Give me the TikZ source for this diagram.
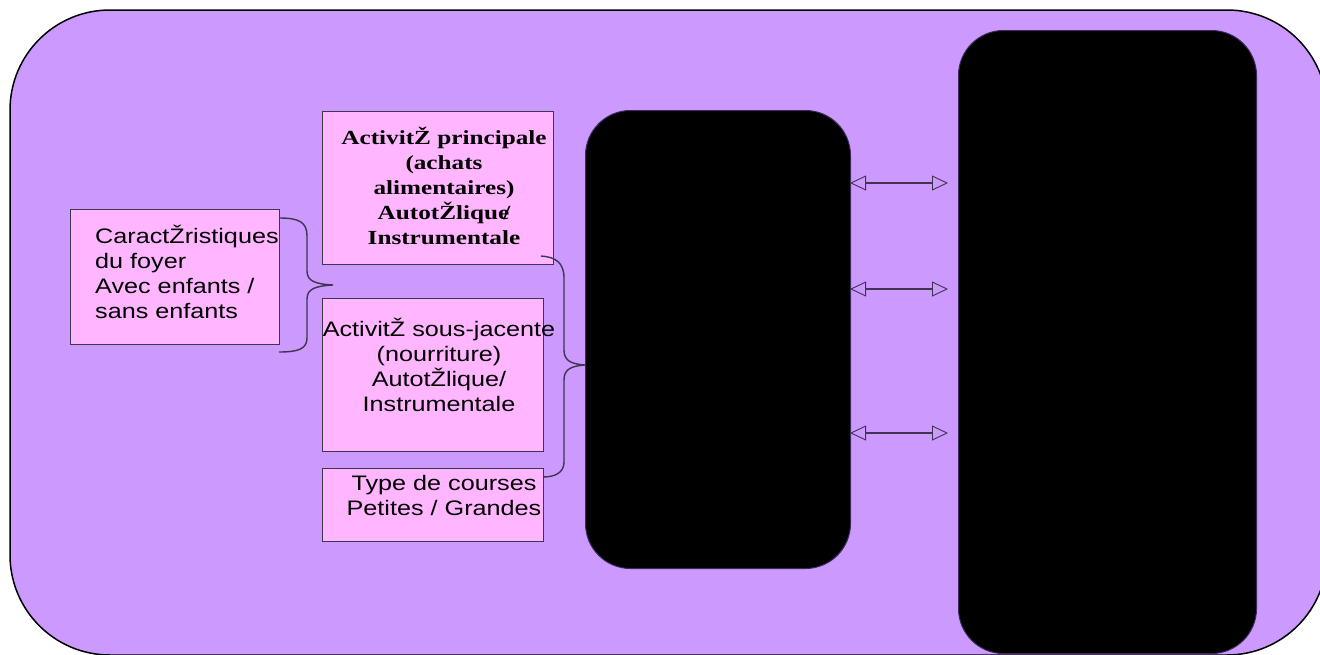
\documentclass[tikz,border=0pt]{standalone}
\usepackage{fontspec}
\usetikzlibrary{arrows.meta}
\newfontfamily\lsans[FakeStretch=1.2]{Liberation Sans}
\newfontfamily\lserif[FakeStretch=1.26]{Liberation Serif}
\definecolor{bgpurple}{HTML}{CC99FF}
\definecolor{boxpink}{HTML}{FFB6FF}
\definecolor{edgegray}{HTML}{3E3550}
\definecolor{darkedge}{HTML}{3A2A5A}
\tikzset{
  pinkbox/.style={draw=edgegray, fill=boxpink, line width=1pt, inner sep=0pt, anchor=north west},
  blackbox/.style={draw=darkedge, fill=black, line width=1pt, rounded corners=45pt, inner sep=0pt, anchor=north west},
  sanstext/.style={font=\lsans\fontsize{21}{25}\selectfont, inner sep=0pt},
  seriftext/.style={font=\lserif\bfseries\fontsize{20}{25}\selectfont, inner sep=0pt},
  bracepath/.style={draw=edgegray, line width=1.4pt},
  linkarrow/.style={draw=edgegray, line width=1.8pt, {Triangle[open, length=16pt, width=15pt, line width=0.9pt]}-{Triangle[open, length=16pt, width=15pt, line width=0.9pt]}}
}
\begin{document}
\begin{tikzpicture}[x=1pt,y=-1pt]
\useasboundingbox (0,0) rectangle (1320,654);
\clip (0,0) rectangle (1320,654);
% outer panel
\draw[fill=bgpurple, line width=1.5pt, rounded corners=100pt] (10,10) rectangle (1327,655);
% black panels
\node[blackbox, minimum width=265pt, minimum height=458pt] (mid) at (585,110) {};
\node[blackbox, minimum width=298pt, minimum height=623pt] (right) at (958,30) {};
% pink boxes
\node[pinkbox, minimum width=209pt, minimum height=135pt] (foyer) at (70,209) {};
\node[pinkbox, minimum width=231pt, minimum height=153pt] (princ) at (322,111) {};
\node[pinkbox, minimum width=221pt, minimum height=153pt] (sous) at (322,298) {};
\node[pinkbox, minimum width=221pt, minimum height=73pt] (type) at (322,468) {};
% texts
\node[sanstext, anchor=base west] (tfoyer) at (95,243)
  {\begin{tabular}[t]{@{}l@{}}CaractŽristiques\\du foyer\\Avec enfants /\\sans enfants\end{tabular}};
\node[seriftext, anchor=base] (tprinc) at (444,144)
  {\begin{tabular}[t]{@{}c@{}}ActivitŽ principale\\(achats\\alimentaires)\\AutotŽlique\kern-0.3em/\\Instrumentale\end{tabular}};
\node[sanstext, anchor=base] (tsous) at (439,336)
  {\begin{tabular}[t]{@{}c@{}}ActivitŽ sous-jacente\\(nourriture)\\AutotŽlique/\\Instrumentale\end{tabular}};
\node[sanstext, anchor=base] (ttype) at (444,490)
  {\begin{tabular}[t]{@{}c@{}}Type de courses\\Petites / Grandes\end{tabular}};
% brace 1
\coordinate (b1s) at (279,218);
\coordinate (b1t) at (333,285);
\coordinate (b1e) at (279,352);
\draw[bracepath] (b1s) .. controls (299,218) and (307,222) .. (307,236) -- (307,271)
  .. controls (307,281) and (315,284) .. (b1t)
  .. controls (315,286) and (307,289) .. (307,299) -- (307,338)
  .. controls (307,349) and (298,352) .. (b1e);
% brace 2
\coordinate (b2s) at (541,256);
\coordinate (b2t) at (585,365);
\coordinate (b2e) at (543,477);
\draw[bracepath] (b2s) .. controls (556,257) and (564,263) .. (564,278) -- (564,350)
  .. controls (564,360) and (570,364) .. (b2t)
  .. controls (570,366) and (564,370) .. (564,380) -- (564,462)
  .. controls (564,472) and (556,477) .. (b2e);
% arrows
\coordinate (a1l) at (850,183); \coordinate (a1r) at (948,183);
\coordinate (a2l) at (850,289); \coordinate (a2r) at (948,289);
\coordinate (a3l) at (850,433); \coordinate (a3r) at (948,433);
\draw[linkarrow] (a1l) -- (a1r);
\draw[linkarrow] (a2l) -- (a2r);
\draw[linkarrow] (a3l) -- (a3r);
\end{tikzpicture}
\end{document}
